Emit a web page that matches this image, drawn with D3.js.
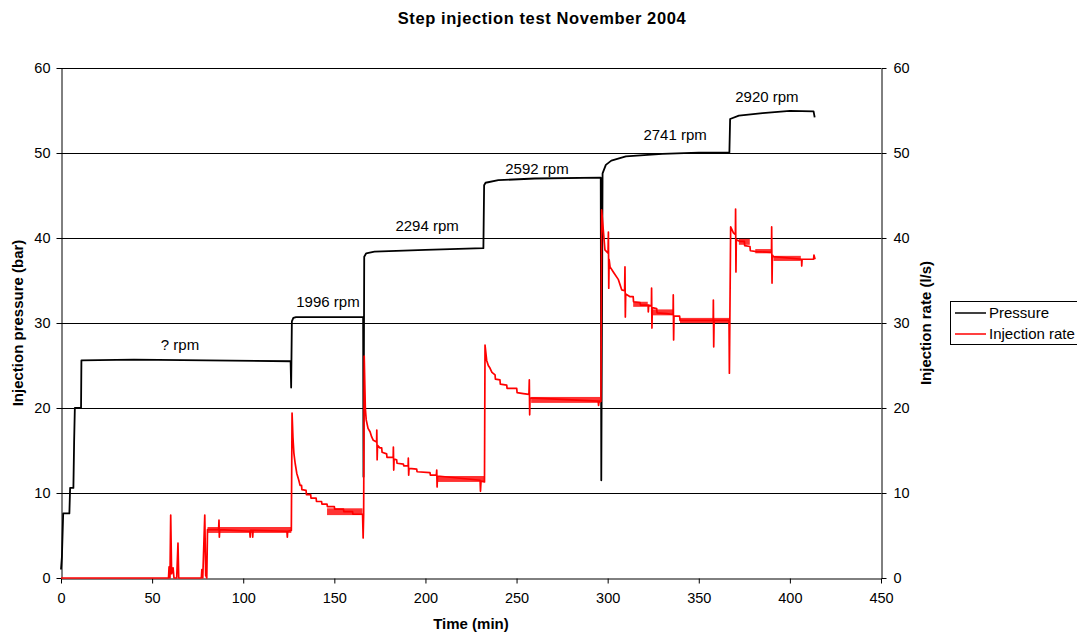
<!DOCTYPE html>
<html>
<head>
<meta charset="utf-8">
<script src="https://cdn.jsdelivr.net/npm/d3@7"></script>
<style>
  html, body { margin: 0; padding: 0; background: #fff; }
  svg { display: block; font-family: "Liberation Sans", Arial, sans-serif; }
</style>
</head>
<body>
<svg id="chart" width="1077" height="637"></svg>
<script>
// ---------- data ----------
const titleText = "Step injection test November 2004";
const xTicks = [0, 50, 100, 150, 200, 250, 300, 350, 400, 450];
const yTicks = [0, 10, 20, 30, 40, 50, 60];
const seriesNames = ["Pressure", "Injection rate"];

// Pressure [time (min), bar]
const pressure = [
  [0,1.0],[0.5,2.5],[1.2,7.6],[4.6,7.6],[5.0,10.6],[6.8,10.6],[7.2,16],[7.6,20],[11,20],[11.2,25.6],
  [40,25.7],[80,25.6],[126,25.5],[126.3,22.4],[126.7,30.2],[127.5,30.6],[129,30.7],[165.8,30.7],
  [166,11.9],[166.4,37.8],[167.5,38.2],[172,38.4],[200,38.6],[231.8,38.8],[232.2,46.2],[233,46.5],
  [240,46.8],[260,47.0],[296.2,47.1],[296.5,11.5],[297.2,47.6],[299,48.6],[302,49.1],[310,49.6],
  [330,49.9],[350,50.05],[366.8,50.05],[367.2,54.0],[372,54.4],[385,54.7],[400,54.95],[413,54.9],[413.6,54.2]
];

// Injection rate [time (min), l/s]
const injectionRate = [
  [0,0],[59,0],[59.3,1.3],[59.8,0],[60.2,7.4],[60.7,0.5],[61.5,1.2],[62,0],[63.5,0],[64.2,4.1],[64.6,0],
  [77,0],[77.3,1.0],[77.8,0],[78.9,7.4],[79.4,0.3],[80,0],[80.4,5.7],[86.5,5.7],[86.7,6.8],[86.9,4.8],
  [87.1,5.7],[103.6,5.5],[103.8,4.8],[104,5.6],[105,5.6],[105.2,4.8],[105.4,5.6],[124,5.5],[124.2,4.8],
  [124.4,5.5],[126.4,5.6],
  [126.8,19.4],[127.3,16.5],[127.8,14.7],[128.5,13.5],[129.4,12.3],[130.5,11.5],[131.2,10.9],[132,10.9],
  [132.2,10.4],[134.5,10.3],[134.7,9.8],[137,9.8],[137.2,9.4],[140,9.4],[140.2,9.0],[143,9.0],[143.2,8.7],
  [146,8.7],[146.2,8.4],[150,8.4],[150.2,8.1],[155,8.1],[155.2,7.8],[160,7.8],[160.2,7.5],[165.5,7.5],
  [165.8,4.7],[166.1,7.6],
  [166.4,26.1],[167,20],[167.5,18.6],[168.5,17.6],[169.6,17.2],[170.5,16.6],[171.4,16.2],[173.2,16.0],
  [173.3,17.4],[173.5,13.9],[173.7,15.6],[175,15.3],[176,15.3],[176.2,14.8],[178.7,14.6],[178.9,14.2],
  [182.3,14.2],[182.4,15.4],[182.6,12.7],[182.8,14.0],[184.2,13.9],[184.4,13.5],[187.9,13.4],[188.1,13.2],
  [190.5,13.2],[190.6,14.1],[190.8,12.1],[191,12.9],[195.2,12.8],[195.4,12.5],[202.5,12.4],[202.7,12.1],
  [206,12.1],[206.2,12.7],[206.4,10.7],[206.6,12.0],[230,11.5],[230.2,10.2],[230.5,11.4],[232.4,11.3],
  [232.7,27.4],[233.6,25.6],[234.5,25.0],[235.4,24.7],[236.5,24.2],[238.2,23.9],[238.4,23.4],[240.9,23.3],
  [241.1,22.8],[244.6,22.7],[244.8,22.3],[250.1,22.3],[250.3,21.8],[253.7,21.7],[256.8,21.6],[257,23.3],
  [257.2,19.2],[257.4,21.2],[294.8,20.8],[295,20.3],[295.3,20.8],[296.3,20.8],
  [296.7,43.3],[298.5,38.6],[300.2,38.2],[300.4,40.7],[300.6,34.1],[300.8,37.5],[301.3,36.6],[303.1,36.0],
  [305.9,35.1],[307.7,33.9],[309.3,33.8],[309.5,36.6],[309.7,30.7],[309.9,33.4],[312.3,33.1],[314,33.1],
  [314.2,32.5],[317.8,32.4],[318,32.1],[322.2,32.1],[322.3,31.3],[322.5,32.1],[324,32.0],[324.1,34.1],
  [324.3,29.4],[324.5,31.8],[326.9,31.7],[327.1,31.2],[332.4,31.1],[335.9,31.0],[336,33.3],[336.2,28.0],
  [336.4,30.8],[339.5,30.8],[339.7,30.3],[357.9,30.3],[358,32.7],[358.2,27.2],[358.4,30.3],[366.6,30.3],
  [366.8,24.1],
  [367.5,41.3],[369,40.6],[370.1,40.4],[370.2,43.4],[370.4,36.0],[370.6,39.8],[372.6,39.6],[375,39.6],
  [375.2,39.1],[378.1,39.0],[378.3,38.5],[381.8,38.4],[389.9,38.3],[390,41.3],[390.2,34.7],[390.4,38.0],
  [391,37.8],[406.4,37.5],[406.5,36.7],[406.7,37.5],[413,37.5],[413.2,38.0],[413.8,37.5]
];

// Dense flicker bands of the rate logger [t start, t end, low, high]
const rateBands = [
  [80.4,126.4,5.3,6.0],[146,165.5,7.4,8.2],[206.6,232.4,11.3,12.0],[258,296.3,20.6,21.3],
  [314,322,31.9,32.5],[324.5,336,30.9,31.6],[339.7,366.6,30.0,30.6],[372,378,39.2,39.9],
  [381,390,38.2,38.7],[391,406,37.3,37.9]
];

// Pump speed annotations [label, time, bar]
const rpmLabels = [
  ["? rpm", 65.3, 27.5], ["1996 rpm", 146.5, 32.5], ["2294 rpm", 200.9, 41.4],
  ["2592 rpm", 261.2, 48.1], ["2741 rpm", 337, 52.2], ["2920 rpm", 387.4, 56.6]
];

// ---------- chart ----------
const svg = d3.select("#chart");
const mLeft = 61, mRight = 881, mTop = 68, mBottom = 578;
const x = d3.scaleLinear().domain([0, 450]).range([mLeft, mRight]);
const yL = d3.scaleLinear().domain([0, 60]).range([mBottom, mTop]);
const yR = d3.scaleLinear().domain([0, 60]).range([mBottom, mTop]);

// gridlines
svg.append("g").selectAll("line").data(yTicks.filter(d => d > 0)).join("line")
  .attr("x1", mLeft).attr("x2", mRight)
  .attr("y1", d => yL(d) + 0.5).attr("y2", d => yL(d) + 0.5)
  .attr("stroke", "#000").attr("stroke-width", 1);

// axes
const axisStyle = g => {
  g.selectAll("path").attr("stroke", "#000");
  g.selectAll("line").attr("stroke", "#000");
  g.selectAll("text").attr("font-size", "14.5px").attr("fill", "#000")
    .attr("font-family", "Liberation Sans, Arial, sans-serif");
};
svg.append("g").attr("transform", `translate(0,${mBottom + 0.5})`)
  .call(d3.axisBottom(x).tickValues(xTicks).tickSize(5).tickSizeOuter(0).tickPadding(9))
  .call(axisStyle);
svg.append("g").attr("transform", `translate(${mLeft + 0.5},0)`)
  .call(d3.axisLeft(yL).tickValues(yTicks).tickSize(5).tickSizeOuter(0).tickPadding(6))
  .call(axisStyle);
svg.append("g").attr("transform", `translate(${mRight + 0.5},0)`)
  .call(d3.axisRight(yR).tickValues(yTicks).tickSize(5).tickSizeOuter(0).tickPadding(7))
  .call(axisStyle);

// pressure line
const line = d3.line().x(d => x(d[0])).y(d => yL(d[1]));
const lineR = d3.line().x(d => x(d[0])).y(d => yR(d[1]));
svg.append("path").datum(pressure).attr("d", line)
  .attr("fill", "none").attr("stroke", "#000").attr("stroke-width", 1.8)
  .attr("stroke-linejoin", "round");

// rate bands
svg.append("g").selectAll("rect").data(rateBands).join("rect")
  .attr("x", d => x(d[0])).attr("width", d => x(d[1]) - x(d[0]))
  .attr("y", d => yR(d[3])).attr("height", d => yR(d[2]) - yR(d[3]))
  .attr("fill", "#ff0000").attr("opacity", 0.8);

// rate line
svg.append("path").datum(injectionRate).attr("d", lineR)
  .attr("fill", "none").attr("stroke", "#ff0000").attr("stroke-width", 1.7)
  .attr("stroke-linejoin", "round");

// rpm labels
svg.append("g").selectAll("text").data(rpmLabels).join("text")
  .attr("x", d => x(d[1])).attr("y", d => yL(d[2]))
  .attr("dy", "0.35em").attr("text-anchor", "middle")
  .attr("font-size", "15px").text(d => d[0]);

// title
svg.append("text").attr("x", 542).attr("y", 24).attr("text-anchor", "middle")
  .attr("font-size", "16.5px").attr("font-weight", "bold").attr("letter-spacing", "0.6px")
  .text(titleText);

// axis titles
svg.append("text").attr("x", 471).attr("y", 629).attr("text-anchor", "middle")
  .attr("font-size", "15px").attr("font-weight", "bold").text("Time (min)");
svg.append("text").attr("transform", "translate(23,323) rotate(-90)").attr("text-anchor", "middle")
  .attr("font-size", "15px").attr("font-weight", "bold").text("Injection pressure (bar)");
svg.append("text").attr("transform", "translate(931,323) rotate(-90)").attr("text-anchor", "middle")
  .attr("font-size", "15px").attr("font-weight", "bold").text("Injection rate (l/s)");

// legend
const lg = svg.append("g");
lg.append("rect").attr("x", 950.5).attr("y", 301.5).attr("width", 140).attr("height", 43)
  .attr("fill", "#fff").attr("stroke", "#000");
const colors = ["#000", "#ff0000"];
seriesNames.forEach((n, i) => {
  const yy = 313 + i * 21;
  lg.append("line").attr("x1", 955).attr("x2", 986).attr("y1", yy).attr("y2", yy)
    .attr("stroke", colors[i]).attr("stroke-width", 1.5);
  lg.append("text").attr("x", 989).attr("y", yy).attr("dy", "0.35em")
    .attr("font-size", "15px").text(n);
});
</script>
</body>
</html>
